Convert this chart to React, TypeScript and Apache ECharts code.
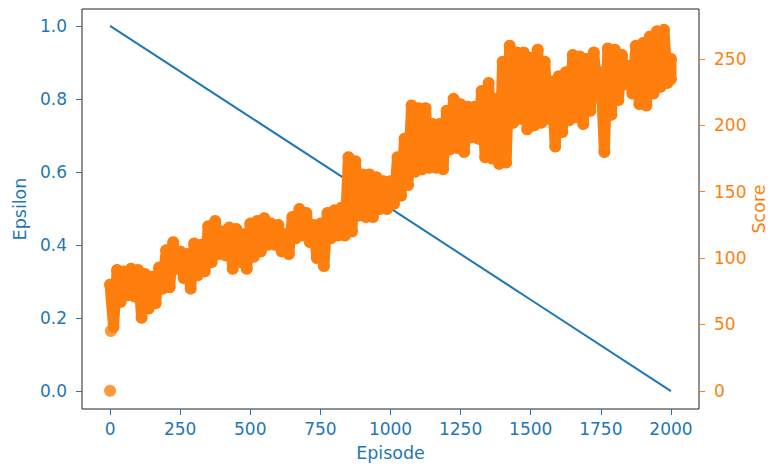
import { useEffect, useRef } from "react";
import * as echarts from "echarts";

const episodeTicks = [0, 250, 500, 750, 1000, 1250, 1500, 1750, 2000];
const epsilonTicks = [0, 0.2, 0.4, 0.6, 0.8, 1.0];
const scoreTicks = [0, 50, 100, 150, 200, 250];

const epsilonEpisodes = [0, 500, 1000, 1500, 2000];
const epsilonValues = [1.0, 0.75, 0.5, 0.25, 0.0];

const scoreEpisodes = [
  0, 25, 50, 75, 100, 125, 150, 175, 200, 225, 250, 275, 300, 325, 350, 375, 400, 425, 450, 475,
  500, 525, 550, 575, 600, 625, 650, 675, 700, 725, 750, 775, 800, 825, 850, 875, 900, 925, 950, 975,
  1000, 1025, 1050, 1075, 1100, 1125, 1150, 1175, 1200, 1225, 1250, 1275, 1300, 1325, 1350, 1375,
  1400, 1425, 1450, 1475, 1500, 1525, 1550, 1575, 1600, 1625, 1650, 1675, 1700, 1725, 1750, 1775,
  1800, 1825, 1850, 1875, 1900, 1925, 1950, 1975, 2000,
];
const scoreHigh = [
  80, 91, 90, 92, 91, 88, 86, 93, 106, 112, 105, 103, 111, 110, 124, 128, 120, 123, 122, 118,
  126, 128, 130, 126, 125, 118, 131, 137, 134, 125, 126, 134, 136, 138, 176, 173, 163, 163, 161, 158,
  158, 176, 190, 215, 213, 213, 201, 201, 211, 220, 216, 214, 214, 226, 232, 220,
  248, 260, 255, 255, 251, 257, 248, 233, 237, 240, 253, 252, 250, 255, 240, 258,
  257, 253, 245, 260, 262, 267, 271, 272, 250,
];
const scoreLow = [
  48, 67, 72, 71, 55, 62, 66, 77, 78, 92, 85, 77, 87, 90, 97, 103, 102, 92, 97, 92,
  101, 105, 110, 110, 105, 103, 115, 117, 112, 100, 94, 115, 117, 117, 120, 132, 131, 131, 137, 137,
  141, 147, 155, 165, 167, 168, 168, 167, 182, 183, 180, 191, 190, 176, 175, 171,
  172, 202, 205, 197, 200, 202, 205, 184, 195, 204, 206, 201, 211, 221, 180, 208,
  219, 231, 224, 216, 215, 224, 229, 232, 235,
];
const outlierEpisodes = [0, 3];
const outlierScores = [0, 45];

const blue = "#1f77b4";
const orange = "#ff7f0e";
const font = "DejaVu Sans";

export default function App() {
  const ref = useRef<HTMLDivElement>(null);
  useEffect(() => {
    if (!ref.current) return;
    const chart = echarts.init(ref.current, null, { renderer: "svg", width: 773, height: 470 });
    const band: [number, number][] = [];
    scoreEpisodes.forEach((e, i) => {
      band.push([e, scoreHigh[i]]);
      const last = i === scoreEpisodes.length - 1;
      band.push([last ? e : e + 12.5, scoreLow[i]]);
    });
    chart.setOption({
      animation: false,
      backgroundColor: "#ffffff",
      grid: {
        left: 82,
        right: 74,
        top: 9,
        bottom: 61,
        containLabel: false,
        outerBoundsMode: "none",
        show: true,
        borderColor: "#222",
        borderWidth: 1,
        backgroundColor: "transparent",
      },
      xAxis: {
        type: "value",
        min: -100,
        max: 2100,
        name: "Episode",
        nameLocation: "middle",
        nameGap: 35,
        nameTextStyle: { color: blue, fontSize: 17.5, fontFamily: font },
        axisLine: { show: false, onZero: false },
        axisTick: { show: true, length: 6, lineStyle: { color: blue }, customValues: episodeTicks },
        axisLabel: {
          customValues: episodeTicks,
          color: blue,
          fontSize: 17,
          margin: 11,
          fontFamily: font,
          formatter: (v: number) => String(v),
        },
        splitLine: { show: false },
      },
      yAxis: [
        {
          type: "value",
          position: "left",
          min: -0.049,
          max: 1.046,
          name: "Epsilon",
          nameLocation: "middle",
          nameRotate: 90,
          nameGap: 53,
          nameTextStyle: { color: blue, fontSize: 17.5, fontFamily: font },
          axisLine: { show: false, onZero: false },
          axisTick: { show: true, length: 6, lineStyle: { color: blue }, customValues: epsilonTicks },
          axisLabel: {
            customValues: epsilonTicks,
            color: blue,
            fontSize: 17,
            margin: 15,
            fontFamily: font,
            formatter: (v: number) => v.toFixed(1),
          },
          splitLine: { show: false },
        },
        {
          type: "value",
          position: "right",
          min: -13.7,
          max: 287.7,
          name: "Score",
          nameLocation: "middle",
          nameRotate: 90,
          nameGap: 51,
          nameMoveOverlap: false,
          nameTextStyle: { color: orange, fontSize: 17.5, fontFamily: font },
          axisLine: { show: false, onZero: false },
          axisTick: { show: true, length: 6, lineStyle: { color: orange }, customValues: scoreTicks },
          axisLabel: {
            customValues: scoreTicks,
            color: orange,
            fontSize: 17,
            margin: 15,
            fontFamily: font,
            formatter: (v: number) => String(v),
          },
          splitLine: { show: false },
        },
      ],
      series: [
        {
          name: "Epsilon",
          type: "line",
          xAxisIndex: 0,
          yAxisIndex: 0,
          data: epsilonEpisodes.map((e, i) => [e, epsilonValues[i]]),
          showSymbol: false,
          lineStyle: { color: blue, width: 2 },
          z: 2,
        },
        {
          name: "Score",
          type: "line",
          xAxisIndex: 0,
          yAxisIndex: 1,
          data: band,
          symbol: "circle",
          symbolSize: 12,
          showSymbol: true,
          showAllSymbol: true,
          itemStyle: { color: orange, borderWidth: 0 },
          lineStyle: { color: orange, width: 11, cap: "round", join: "round" },
          z: 3,
        },
        {
          name: "Score outliers",
          type: "scatter",
          xAxisIndex: 0,
          yAxisIndex: 1,
          data: outlierEpisodes.map((e, i) => [e, outlierScores[i]]),
          symbolSize: 12,
          itemStyle: { color: orange },
          z: 3,
        },
      ],
    });
    return () => chart.dispose();
  }, []);
  return (
    <div
      ref={ref}
      style={{ position: "absolute", left: 0, top: 0, width: 773, height: 470 }}
    />
  );
}
